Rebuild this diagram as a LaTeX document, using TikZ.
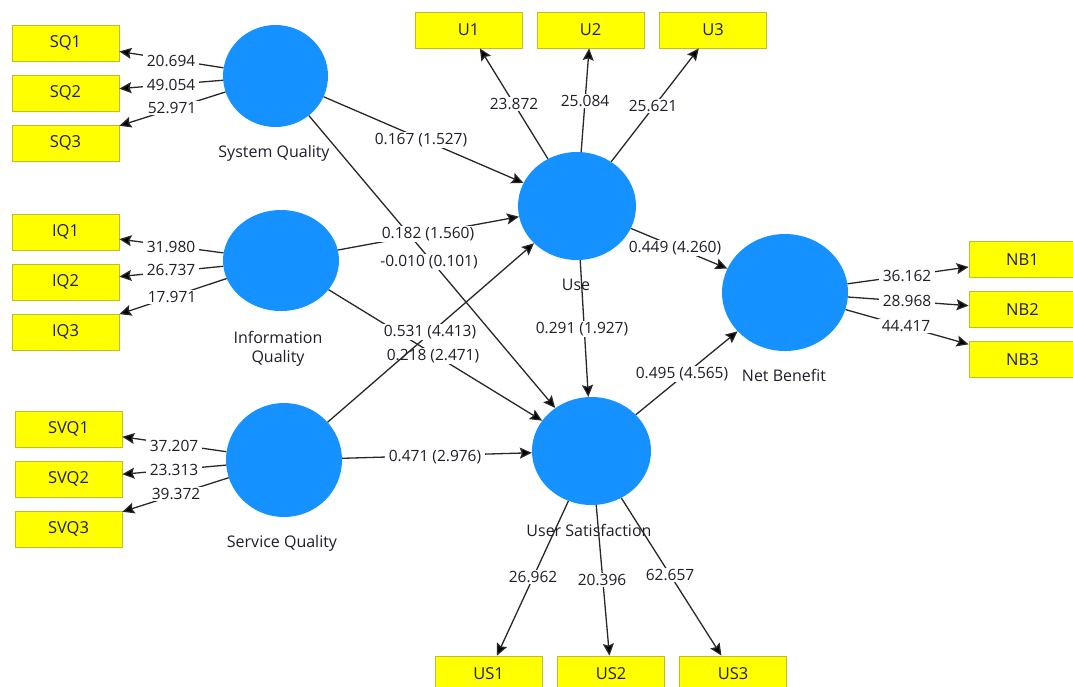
\documentclass[tikz,border=0pt]{standalone}
\usepackage{fontspec}
\setmainfont{Open Sans}
\usetikzlibrary{shapes.geometric,arrows.meta}
\definecolor{lvblue}{RGB}{21,146,255}
\definecolor{indfill}{RGB}{255,255,0}
\definecolor{indline}{RGB}{190,190,40}
\definecolor{txt}{RGB}{30,30,44}
\definecolor{edge}{RGB}{40,40,40}
\tikzset{
  lv/.style={ellipse, fill=lvblue, draw=none, inner sep=0pt},
  lvname/.style={text=txt, font=\fontsize{16}{19}\selectfont, align=center, inner sep=0pt},
  ind/.style={rectangle, fill=indfill, draw=indline, line width=0.8pt,
    minimum width=107pt, minimum height=36pt, inner sep=0pt,
    text=txt, font=\fontsize{16.5}{19}\selectfont},
  wt/.style={fill=white, text=txt, inner xsep=3.5pt, inner ysep=1pt,
    font=\fontsize{15.5}{18}\selectfont},
  link/.style={draw=edge, line width=1.3pt,
    -{Stealth[length=12pt,width=11pt,inset=2pt,fill=black]}},
}
\begin{document}
\begin{tikzpicture}[x=1pt,y=-1pt]
\useasboundingbox (0,0) rectangle (1073,686);
\clip (0,0) rectangle (1073,686);

% latent variables
\node[lv, minimum width=105pt, minimum height=102pt] (sq)  at (275.5,76)  {};
\node[lv, minimum width=116pt, minimum height=101pt] (iq)  at (281,260.5) {};
\node[lv, minimum width=116pt, minimum height=114pt] (svq) at (284,460)   {};
\node[lv, minimum width=118pt, minimum height=108pt] (use) at (577,206)   {};
\node[lv, minimum width=119pt, minimum height=108pt] (us)  at (591.5,451) {};
\node[lv, minimum width=126pt, minimum height=117pt] (nb)  at (785,292.5) {};

\node[lvname] (sqn)  at (274,153) {System Quality};
\node[lvname] (iqn)  at (278,349) {Information\\Quality};
\node[lvname] (svqn) at (282,543) {Service Quality};
\node[lvname] (usen) at (576,285) {Use};
\node[lvname] (usn)  at (589,530) {User Satisfaction};
\node[lvname] (nbn)  at (784,375) {Net Benefit};

% indicators
\node[ind] (sq1) at (65.5,43)  {SQ1};
\node[ind] (sq2) at (65.5,93)  {SQ2};
\node[ind] (sq3) at (65.5,143) {SQ3};
\node[ind] (iq1) at (65.5,232) {IQ1};
\node[ind] (iq2) at (65.5,282) {IQ2};
\node[ind] (iq3) at (65.5,332) {IQ3};
\node[ind] (svq1) at (68.5,429) {SVQ1};
\node[ind] (svq2) at (68.5,479) {SVQ2};
\node[ind] (svq3) at (68.5,529) {SVQ3};
\node[ind] (u1) at (468.5,30) {U1};
\node[ind] (u2) at (590.5,30) {U2};
\node[ind] (u3) at (713,30)   {U3};
\node[ind] (nb1) at (1022.5,259.5) {NB1};
\node[ind] (nb2) at (1022.5,309.5) {NB2};
\node[ind] (nb3) at (1022.5,359.5) {NB3};
\node[ind] (us1) at (488.5,674) {US1};
\node[ind] (us2) at (611,674)   {US2};
\node[ind] (us3) at (733,674)   {US3};

% outer loadings
\draw[link] (sq) -- (sq1);  \node[wt] (l1) at (171,61)  {20.694};
\draw[link] (sq) -- (sq2);  \node[wt] (l2) at (171,85)  {49.054};
\draw[link] (sq) -- (sq3);  \node[wt] (l3) at (172,108) {52.971};
\draw[link] (iq) -- (iq1);  \node[wt] (l4) at (171,247) {31.980};
\draw[link] (iq) -- (iq2);  \node[wt] (l5) at (171,270) {26.737};
\draw[link] (iq) -- (iq3);  \node[wt] (l6) at (172,297) {17.971};
\draw[link] (svq) -- (svq1); \node[wt] (l7) at (174,446) {37.207};
\draw[link] (svq) -- (svq2); \node[wt] (l8) at (174,470) {23.313};
\draw[link] (svq) -- (svq3); \node[wt] (l9) at (176,494) {39.372};
\draw[link] (use) -- (u1);  \node[wt] (l10) at (514,104) {23.872};
\draw[link] (use) -- (u2);  \node[wt] (l11) at (585,101) {25.084};
\draw[link] (use) -- (u3);  \node[wt] (l12) at (653,106) {25.621};
\draw[link] (nb) -- (nb1);  \node[wt] (l13) at (907,276) {36.162};
\draw[link] (nb) -- (nb2);  \node[wt] (l14) at (907,301) {28.968};
\draw[link] (nb) -- (nb3);  \node[wt] (l15) at (906,326) {44.417};
\draw[link] (us) -- (us1);  \node[wt] (l16) at (533,577) {26.962};
\draw[link] (us) -- (us2);  \node[wt] (l17) at (602,580) {20.396};
\draw[link] (us) -- (us3);  \node[wt] (l18) at (670,575) {62.657};

% structural paths: path coefficient (t value)
\draw[link] (sq) -- (use);  \node[wt] (p1) at (421,140) {0.167 (1.527)};
\draw[link] (sq) -- (us);   \node[wt] (p2) at (429,262) {-0.010 (0.101)};
\draw[link] (iq) -- (use);  \node[wt] (p3) at (428,234) {0.182 (1.560)};
\draw[link] (iq) -- (us);   \node[wt] (p4) at (433,356) {0.218 (2.471)};
\draw[link] (svq) -- (use); \node[wt] (p5) at (430,332) {0.531 (4.413)};
\draw[link] (svq) -- (us);  \node[wt] (p6) at (435,457) {0.471 (2.976)};
\draw[link] (use) -- (us);  \node[wt] (p7) at (582,329) {0.291 (1.927)};
\draw[link] (use) -- (nb);  \node[wt] (p8) at (675,248) {0.449 (4.260)};
\draw[link] (us) -- (nb);   \node[wt] (p9) at (682,374) {0.495 (4.565)};
\end{tikzpicture}
\end{document}
